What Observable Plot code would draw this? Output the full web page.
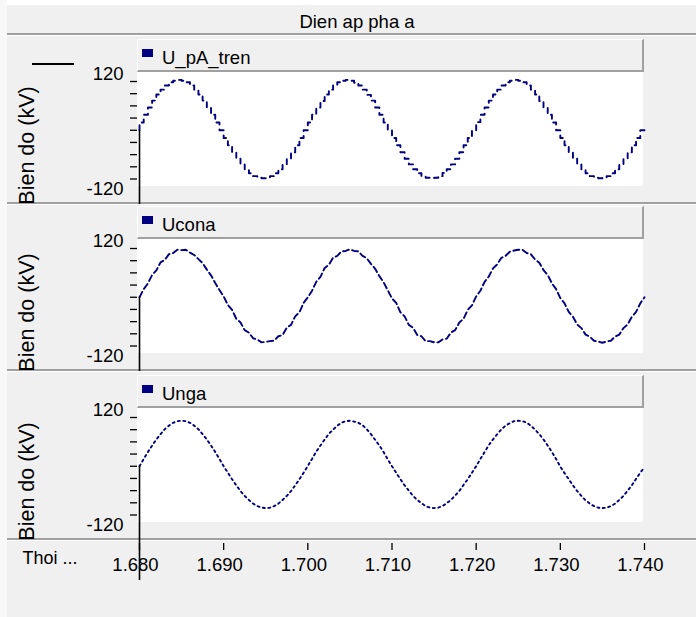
<!DOCTYPE html>
<html><head><meta charset="utf-8">
<script src="https://cdn.jsdelivr.net/npm/d3@7"></script>
<script src="https://cdn.jsdelivr.net/npm/@observablehq/plot@0.6"></script>
<style>
body{margin:0;background:#fff;}
#root{position:relative;width:696px;height:617px;background:#f0f0f0;overflow:hidden;font-family:"Liberation Sans",Arial,sans-serif;color:#000;font-size:18.5px;}
.abs{position:absolute;}
.lbl{position:absolute;line-height:20px;white-space:nowrap;}
</style></head><body><div id="root"></div>
<script>
// ---------------- data ----------------
const title = "Dien ap pha a";
const seriesNames = ["U_pA_tren", "Ucona", "Unga"];
const yLabel = "Bien do (kV)";
const xLabel = "Thoi ...";
const tStart = 1.68, tStep = 0.0005;           // sampling grid of the traces (s)
const yTicks = [-120, -90, -60, -30, 0, 30, 60, 90, 120];
const xTicks = [1.68, 1.69, 1.70, 1.71, 1.72, 1.73, 1.74];

const uPATren = [
  0,19,38,56,73,88,100,110,118,122,124,122,118,110,100,88,73,56,38,19,
  0,-19,-37,-54,-70,-84,-96,-106,-113,-117,-118,-117,-113,-106,-96,-84,-70,-54,-37,-19,
  0,19,38,56,72,88,100,111,118,122,124,122,117,110,100,87,73,56,38,19,
  0,-19,-37,-54,-70,-84,-96,-106,-113,-117,-118,-117,-113,-105,-96,-84,-70,-54,-37,-19,
  0,20,38,56,73,88,100,110,118,122,124,122,118,110,100,88,72,56,38,19,
  0,-19,-37,-54,-70,-84,-96,-106,-113,-117,-118,-117,-113,-106,-96,-84,-70,-54,-37,-19,
  0
];
const uCona = [
  0,20,34,55,66,86,92,106,109,117,116,117,110,104,94,84,68,54,35,18,
  2,-19,-31,-53,-62,-81,-87,-101,-104,-111,-110,-108,-107,-96,-93,-75,-68,-47,-37,-14,
  0,16,38,50,72,80,97,102,113,114,118,114,113,102,96,82,70,52,37,17,
  -3,-14,-37,-47,-68,-75,-93,-96,-108,-108,-111,-111,-104,-102,-87,-81,-62,-53,-31,-20,
  2,16,38,51,71,81,97,102,112,115,117,117,109,106,93,85,67,55,34,20,
  -2,-15,-36,-48,-67,-76,-92,-97,-107,-109,-112,-109,-107,-97,-92,-76,-67,-48,-36,-15,
  0
];
const uNga = [
  0,18,35,51,66,79,91,100,107,111,112,111,107,100,91,79,66,51,35,18,
  0,-16,-32,-47,-61,-73,-83,-92,-98,-102,-103,-102,-98,-92,-83,-73,-61,-47,-32,-16,
  1,18,36,51,66,80,90,100,107,111,112,110,107,101,91,79,65,51,35,17,
  0,-16,-32,-47,-60,-73,-83,-91,-98,-102,-103,-102,-98,-91,-83,-72,-61,-46,-32,-16,
  0,18,35,52,66,79,91,100,106,111,112,111,107,100,90,79,66,51,35,18,
  -1,-17,-32,-47,-61,-73,-84,-92,-98,-102,-103,-102,-98,-92,-83,-73,-60,-47,-31,-16,
  -2
];
const seriesValues = [uPATren, uCona, uNga];

// ---------------- layout / style ----------------
const FONT = '"Liberation Sans", Arial, sans-serif';
const NAVY = "#000080";
const GRAY = "#a0a0a0";
const panelTop = [36, 203, 372];
const panelH = 168;
const dashes = ["5,5", "6,3.5", "2,3.5"];
const curves = ["step-before", "linear", "linear"];

const root = document.getElementById("root");
function box(x, y, w, h, style) {
  const d = document.createElement("div");
  d.className = "abs";
  Object.assign(d.style, {left: x + "px", top: y + "px", width: w + "px", height: h + "px"}, style || {});
  root.appendChild(d);
  return d;
}
function label(txt, x, baseline, extra) {
  const s = document.createElement("span");
  s.className = "lbl";
  s.textContent = txt;
  Object.assign(s.style, {left: x + "px", top: (baseline - 16.4) + "px"}, extra || {});
  root.appendChild(s);
  return s;
}

// outer light edges
box(0, 0, 696, 5, {background: "#ffffff"});
box(0, 0, 7, 617, {background: "#f8f8f8"});
// title bar
box(7, 5, 689, 28, {background: "#f0f0f0", borderBottom: "2px solid " + GRAY});
box(7, 35, 689, 1, {background: "#ffffff"});
label(title, 357, 28, {transform: "translateX(-50%)"});

const xDomain = [xTicks[0], xTicks[xTicks.length - 1]];
const yDomain = [yTicks[0], yTicks[yTicks.length - 1]];

seriesValues.forEach((vals, i) => {
  const T = panelTop[i];
  // white plotting area
  box(137, T + 36, 506, 114, {background: "#ffffff"});
  // legend header
  box(137, T + 3, 504, 30, {background: "#f0f0f0", borderTop: "1px solid #fff", borderLeft: "1px solid #fff",
    borderBottom: "2px solid " + GRAY, borderRight: "2px solid " + GRAY});
  box(142, T + 13, 11, 8, {background: NAVY});
  label(seriesNames[i], 162, T + 28);
  // separator at the bottom of the panel
  box(7, T + panelH - 2, 689, 2, {background: GRAY});
  box(7, T + panelH, 689, 1, {background: "#ffffff"});
  if (i === 0) box(32, 63, 42, 1.5, {background: "#000"});

  const data = vals.map((v, k) => ({t: tStart + k * tStep, v}));
  const svg = Plot.plot({
    width: 696, height: panelH,
    marginLeft: 139, marginRight: 52, marginTop: 45, marginBottom: 25.5,
    x: {domain: xDomain, axis: null},
    y: {domain: yDomain, label: null},
    style: {background: "transparent", overflow: "hidden", fontFamily: FONT, fontSize: "18px", color: "#000"},
    marks: [
      Plot.line(data, {x: "t", y: "v", stroke: NAVY, strokeWidth: 1.9, strokeDasharray: dashes[i], curve: curves[i]}),
      Plot.ruleX([tStart], {x: d => d, y1: 0, y2: yDomain[0], insetBottom: -40, stroke: "#000", strokeWidth: 1.6}),
      Plot.axisY({ticks: yTicks, tickSize: 7, dx: -2, tickFormat: () => "", label: null, strokeWidth: 1.3}),
      Plot.text([yDomain[1]], {y: d => d, text: d => String(d), frameAnchor: "left", textAnchor: "end", dx: -16, dy: -7.5, fontSize: 18.5}),
      Plot.text([yDomain[0]], {y: d => d, text: d => String(d), frameAnchor: "left", textAnchor: "end", dx: -16, dy: 10.5, fontSize: 18.5}),
      Plot.text([yLabel], {text: d => d, frameAnchor: "left", textAnchor: "middle", lineAnchor: "middle", rotate: -90, dx: -112, dy: 15.25, fontSize: 21.5})
    ]
  });
  Object.assign(svg.style, {position: "absolute", left: "0px", top: T + "px"});
  root.appendChild(svg);
});

// x axis strip
const axisSvg = Plot.plot({
  width: 696, height: 77,
  marginLeft: 139, marginRight: 52, marginTop: 3, marginBottom: 67,
  x: {domain: xDomain},
  style: {background: "transparent", overflow: "hidden", fontFamily: FONT, fontSize: "18.5px", color: "#000"},
  marks: [
    Plot.tickX(xTicks, {x: d => d, stroke: "#000", strokeWidth: 1.3}),
    Plot.ruleX([tStart], {x: d => d, stroke: "#000", strokeWidth: 1.6, insetTop: -3, insetBottom: -30}),
    Plot.axisX({anchor: "bottom", ticks: xTicks, tickSize: 0, tickPadding: 7, dx: -4, tickFormat: d3.format(".3f"), label: null}),
    Plot.text([xLabel], {text: d => d, frameAnchor: "top-left", textAnchor: "start", lineAnchor: "bottom", dx: -117, dy: 20, fontSize: 18})
  ]
});
Object.assign(axisSvg.style, {position: "absolute", left: "0px", top: "540px"});
root.appendChild(axisSvg);
</script>
</body></html>
